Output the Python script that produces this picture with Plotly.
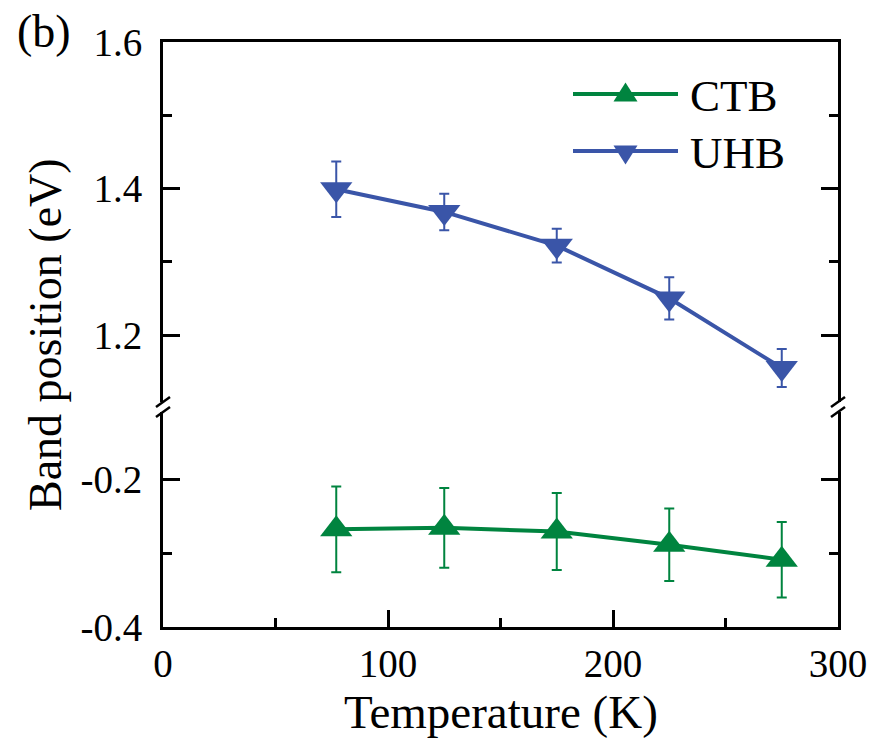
import plotly.graph_objects as go

# Temperature-dependent band positions (eV) with uncertainties
temperature = [77, 125, 175, 225, 275]
uhb_position = [1.399, 1.368, 1.322, 1.250, 1.155]
uhb_error = [0.038, 0.025, 0.023, 0.029, 0.026]
ctb_position = [-0.268, -0.266, -0.271, -0.289, -0.309]
ctb_error = [0.058, 0.054, 0.052, 0.049, 0.051]

series_names = ["CTB", "UHB"]
x_ticks = [0, 100, 200, 300]
y_ticks_upper = [1.2, 1.4, 1.6]
y_ticks_lower = [-0.4, -0.2]

GREEN = "#00843f"
BLUE = "#3a55a8"
FONT = "Liberation Serif"

# Canvas geometry (pixels)
WIDTH, HEIGHT = 878, 742
ML, MR, MT, MB = 163, 40, 42, 115
PW = WIDTH - ML - MR
PH = HEIGHT - MT - MB


def fx(xp):
    return (xp - ML) / PW


def fy(yp):
    return (HEIGHT - MB - yp) / PH


# Split y axis: lower panel for CTB, upper panel for UHB
lower_top_px, upper_bottom_px = 412, 402
lower_domain = [0, fy(lower_top_px)]
upper_domain = [fy(upper_bottom_px), 1]
upper_range = [1.6 - (upper_bottom_px - MT) / 732.5, 1.6]
lower_range = [-0.4, -0.4 + (HEIGHT - MB - lower_top_px) / 740.0]

fig = go.Figure()

fig.add_trace(go.Scatter(
    x=temperature, y=ctb_position, name=series_names[0],
    mode="lines+markers", xaxis="x", yaxis="y",
    line=dict(color=GREEN, width=4),
    marker=dict(symbol="triangle-up", size=28, color=GREEN),
    error_y=dict(type="data", array=ctb_error, visible=True,
                 color=GREEN, thickness=2, width=5),
    showlegend=False,
))

fig.add_trace(go.Scatter(
    x=temperature, y=uhb_position, name=series_names[1],
    mode="lines+markers", xaxis="x2", yaxis="y2",
    line=dict(color=BLUE, width=4),
    marker=dict(symbol="triangle-down", size=28, color=BLUE),
    error_y=dict(type="data", array=uhb_error, visible=True,
                 color=BLUE, thickness=2, width=5),
    showlegend=False,
))

tick_font = dict(family=FONT, size=39, color="black")
axis_common = dict(
    showline=True, linecolor="black", linewidth=3,
    ticks="inside", ticklen=17, tickwidth=3, tickcolor="black",
    showgrid=False, zeroline=False, tickfont=tick_font,
)
minor_y = dict(dtick=0.1, tick0=0, ticks="inside", ticklen=9,
               tickwidth=3, tickcolor="black")

fig.update_layout(
    width=WIDTH, height=HEIGHT,
    margin=dict(l=ML, r=MR, t=MT, b=MB),
    paper_bgcolor="white", plot_bgcolor="white",
    font=dict(family=FONT, color="black"),
    xaxis=dict(
        **axis_common, anchor="y", range=[0, 300],
        tickvals=x_ticks, ticktext=[str(v) for v in x_ticks],
        ticklabelstandoff=0,
        minor=dict(dtick=50, ticks="inside", ticklen=9, tickwidth=3,
                   tickcolor="black"),
    ),
    xaxis2=dict(
        anchor="y2", side="top", matches="x", range=[0, 300],
        showline=True, linecolor="black", linewidth=3,
        showticklabels=False, ticks="", showgrid=False, zeroline=False,
    ),
    yaxis=dict(
        **axis_common, domain=lower_domain, range=lower_range,
        anchor="x", mirror="ticks",
        tickvals=y_ticks_lower, ticktext=[f"{v:.1f}" for v in y_ticks_lower],
        ticklabelstandoff=10, minor=minor_y,
    ),
    yaxis2=dict(
        **axis_common, domain=upper_domain, range=upper_range,
        anchor="x2", mirror="ticks",
        tickvals=y_ticks_upper, ticktext=[f"{v:.1f}" for v in y_ticks_upper],
        ticklabelstandoff=10, minor=minor_y,
    ),
)

shapes = []

# Axis break marks on both vertical axes
for xb in (ML, WIDTH - MR):
    for yb in (upper_bottom_px, lower_top_px):
        shapes.append(dict(
            type="line", xref="paper", yref="paper",
            x0=fx(xb - 7), y0=fy(yb + 5), x1=fx(xb + 7), y1=fy(yb - 5),
            line=dict(color="black", width=2.5),
        ))

# Legend: line with a centred triangle marker and a label
legend_items = [
    (series_names[0], GREEN, 94, "up"),
    (series_names[1], BLUE, 151, "down"),
]
for name, color, yl, direction in legend_items:
    shapes.append(dict(
        type="line", xref="paper", yref="paper",
        x0=fx(573), y0=fy(yl), x1=fx(678), y1=fy(yl),
        line=dict(color=color, width=4),
    ))
    cx, half_w, h = 625.5, 12, 19
    if direction == "up":
        pts = [(cx - half_w, yl + 7.5), (cx + half_w, yl + 7.5), (cx, yl + 7.5 - h)]
    else:
        pts = [(cx - half_w, yl - 5.5), (cx + half_w, yl - 5.5), (cx, yl - 5.5 + h)]
    path = "M {} {} L {} {} L {} {} Z".format(
        *[v for p in pts for v in (fx(p[0]), fy(p[1]))])
    shapes.append(dict(
        type="path", xref="paper", yref="paper", path=path,
        fillcolor=color, line=dict(color=color, width=0),
    ))

annotations = []
for name, color, yl, _ in legend_items:
    annotations.append(dict(
        text=name, xref="paper", yref="paper", x=fx(688), y=fy(yl + 2),
        xanchor="left", yanchor="middle", showarrow=False,
        font=dict(family=FONT, size=45, color="black"),
    ))

annotations += [
    dict(text="Temperature (K)", xref="paper", yref="paper",
         x=fx(501), y=fy(712), xanchor="center", yanchor="middle",
         showarrow=False, font=dict(family=FONT, size=47, color="black")),
    dict(text="Band position (eV)", xref="paper", yref="paper",
         x=fx(45), y=fy(335), xanchor="center", yanchor="middle",
         textangle=-90, showarrow=False,
         font=dict(family=FONT, size=46, color="black")),
    dict(text="(b)", xref="paper", yref="paper",
         x=fx(44), y=fy(31), xanchor="center", yanchor="middle",
         showarrow=False, font=dict(family=FONT, size=46, color="black")),
]

fig.update_layout(shapes=shapes, annotations=annotations)

fig.write_html("out.html")
